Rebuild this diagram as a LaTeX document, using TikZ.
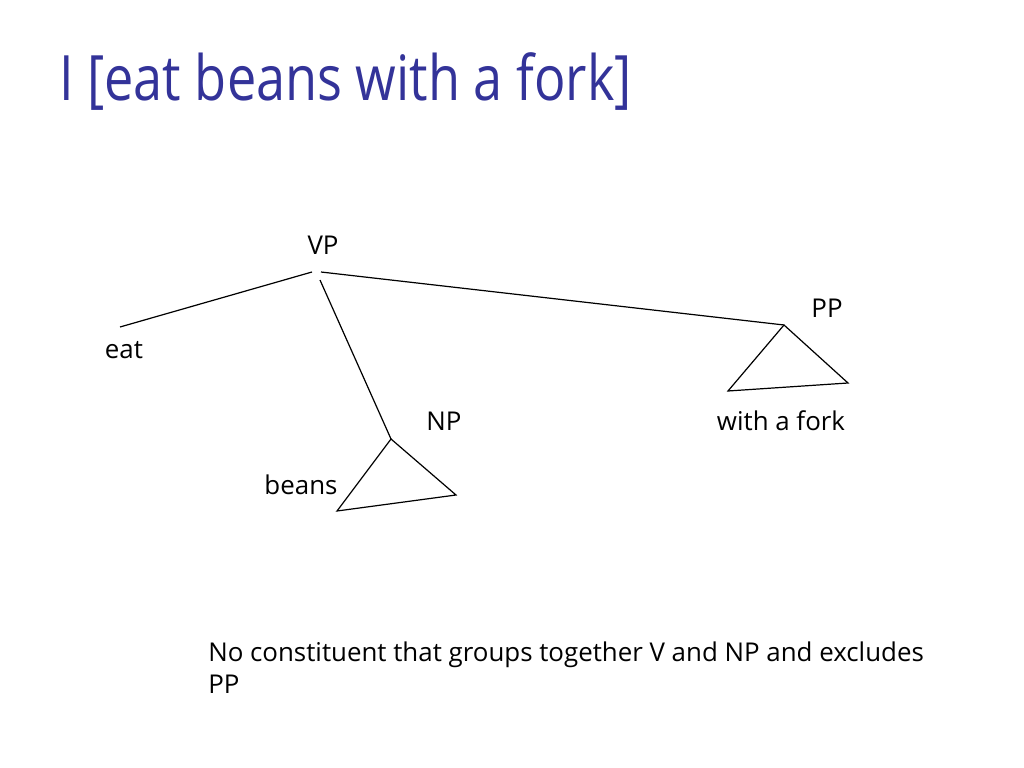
\documentclass[tikz,border=0pt]{standalone}
\usepackage{fontspec}
\setmainfont{Open Sans}
\newfontfamily\titlefont[FakeStretch=0.835]{Open Sans}
\usepackage{tikz}
\usetikzlibrary{calc}
\definecolor{titleblue}{RGB}{51,51,153}
\tikzset{
  lbl/.style={inner sep=0pt,anchor=base,font=\fontsize{18.2}{22}\selectfont},
  branch/.style={line width=0.85pt,black},
}

\begin{document}
\begin{tikzpicture}[x=0.703125pt,y=-0.703125pt]
      \useasboundingbox (0,0) rectangle (1024,768);
      \node[titleblue,inner sep=0pt,anchor=base west,font=\titlefont\fontsize{44}{52}\selectfont] at (59,101) (title) {I [eat beans with a fork]};
       \node[lbl] at (323,255)   (vp) {VP};
       \node[lbl] at (124,358)   (eat) {eat};
       \node[lbl] at (444,430)   (np) {NP};
       \node[lbl] at (301,494)   (beans) {beans};
       \node[lbl] at (827,318)   (pp) {PP};
       \node[lbl] at (781,430)   (fork) {with a fork};
       \node[lbl,anchor=base west,align=left] at (208,693) (note) {No constituent that groups together V and NP and excludes\\PP};
       \coordinate (vpL) at (312,272);
       \coordinate (vpR) at (321,272);
       \coordinate (vpM) at (320,280);
       \coordinate (eatTop) at (120,327);
       \coordinate (npTop) at (391,439);
       \coordinate (ppTop) at (784,325);
     \draw[branch] (vpL)--(eatTop);
     \draw[branch] (vpM)--(npTop);
     \draw[branch] (vpR)--(ppTop);
     \draw[branch] (npTop)--(337,511)--(456,495)--cycle;
     \draw[branch] (ppTop)--(728,391)--(848,383)--cycle;
     \end{tikzpicture}
\end{document}
